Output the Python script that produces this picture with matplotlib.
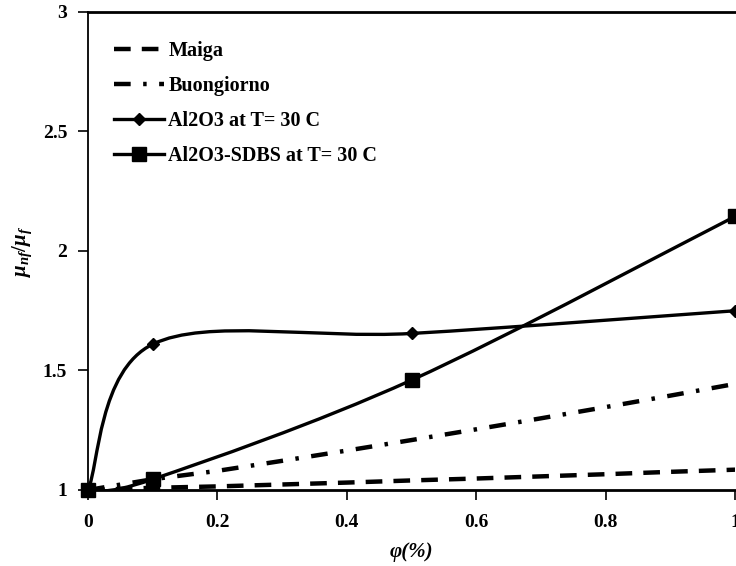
import matplotlib
matplotlib.use('Agg')
import matplotlib.pyplot as plt
from matplotlib.path import Path
from matplotlib.patches import PathPatch
from matplotlib.lines import Line2D

plt.rcParams['font.family'] = ['Liberation Serif', 'DejaVu Serif']
plt.rcParams['font.weight'] = 'bold'
plt.rcParams['mathtext.fontset'] = 'custom'
plt.rcParams['mathtext.it'] = 'Liberation Serif:italic:bold'
plt.rcParams['mathtext.rm'] = 'Liberation Serif:bold'
plt.rcParams['lines.scale_dashes'] = False

# correlations
phi = [0, 0.1, 0.2, 0.3, 0.4, 0.5, 0.6, 0.7, 0.8, 0.9, 1.0]
maiga = [1.0, 1.009, 1.015, 1.023, 1.031, 1.040, 1.048, 1.057, 1.066, 1.076, 1.085]
buongiorno = [1.0, 1.045, 1.080, 1.122, 1.165, 1.209, 1.254, 1.300, 1.347, 1.395, 1.444]

# measured points
phi_exp = [0, 0.1, 0.5, 1.0]
al2o3 = [1.0, 1.61, 1.655, 1.75]
al2o3_sdbs = [1.0, 1.045, 1.46, 2.145]


def smooth_path(xs, ys):
    # excel-style smoothed line (catmull-rom as cubic bezier)
    pts = list(zip(xs, ys))
    verts = [pts[0]]
    codes = [Path.MOVETO]
    n = len(pts)
    for i in range(n - 1):
        p0 = pts[max(i - 1, 0)]
        p1 = pts[i]
        p2 = pts[i + 1]
        p3 = pts[min(i + 2, n - 1)]
        c1 = (p1[0] + (p2[0] - p0[0]) / 6, p1[1] + (p2[1] - p0[1]) / 6)
        c2 = (p2[0] - (p3[0] - p1[0]) / 6, p2[1] - (p3[1] - p1[1]) / 6)
        verts += [c1, c2, p2]
        codes += [Path.CURVE4] * 3
    return Path(verts, codes)


fig = plt.figure(figsize=(7.36, 5.66), dpi=100)
ax = fig.add_axes([0.1196, 0.1343, 0.8794, 0.8445])

ax.plot(phi, maiga, color='black', lw=3.2, dashes=(12, 8), solid_capstyle='butt')
ax.plot(phi, buongiorno, color='black', lw=3.2, dashes=(12, 9, 2.5, 9))

for ys in (al2o3, al2o3_sdbs):
    ax.add_patch(PathPatch(smooth_path(phi_exp, ys), facecolor='none',
                           edgecolor='black', lw=2.4))
ax.plot(phi_exp, al2o3, ls='none', marker='D', ms=6, color='black', clip_on=False, zorder=5)
ax.plot(phi_exp, al2o3_sdbs, ls='none', marker='s', ms=10, color='black', clip_on=False, zorder=5)

ax.set_xlim(0, 1)
ax.set_ylim(1, 3)
ax.set_xticks([0, 0.2, 0.4, 0.6, 0.8, 1])
ax.set_xticklabels(['0', '0.2', '0.4', '0.6', '0.8', '1'])
ax.set_yticks([1, 1.5, 2, 2.5, 3])
ax.set_yticklabels(['1', '1.5', '2', '2.5', '3'])
ax.tick_params(direction='out', labelsize=14, length=7, width=1.2)
ax.tick_params(axis='x', pad=10)
ax.tick_params(axis='y', pad=8)
ax.spines['right'].set_visible(False)
ax.spines['left'].set_linewidth(1.3)
ax.spines['bottom'].set_linewidth(2)
ax.spines['top'].set_linewidth(2)

ax.set_xlabel('φ(%)', fontsize=15, fontstyle='italic', fontweight='bold', labelpad=8)
ax.set_ylabel(r'$\mu_{nf}/\mu_f$', fontsize=15, labelpad=6)

handles = [
    Line2D([], [], color='black', lw=3.2, dashes=(12, 8)),
    Line2D([], [], color='black', lw=3.2, dashes=(12, 9, 2.5, 9)),
    Line2D([], [], color='black', lw=2.4, marker='D', ms=6),
    Line2D([], [], color='black', lw=2.4, marker='s', ms=10),
]
labels = ['Maiga', 'Buongiorno', 'Al2O3 at T= 30 C', 'Al2O3-SDBS at T= 30 C']
ax.legend(handles, labels, loc='upper left', bbox_to_anchor=(0.012, 0.978), frameon=False,
          fontsize=14.5, handlelength=2.5, handletextpad=0.2, labelspacing=0.75)

fig.savefig('out.png', dpi=100)
